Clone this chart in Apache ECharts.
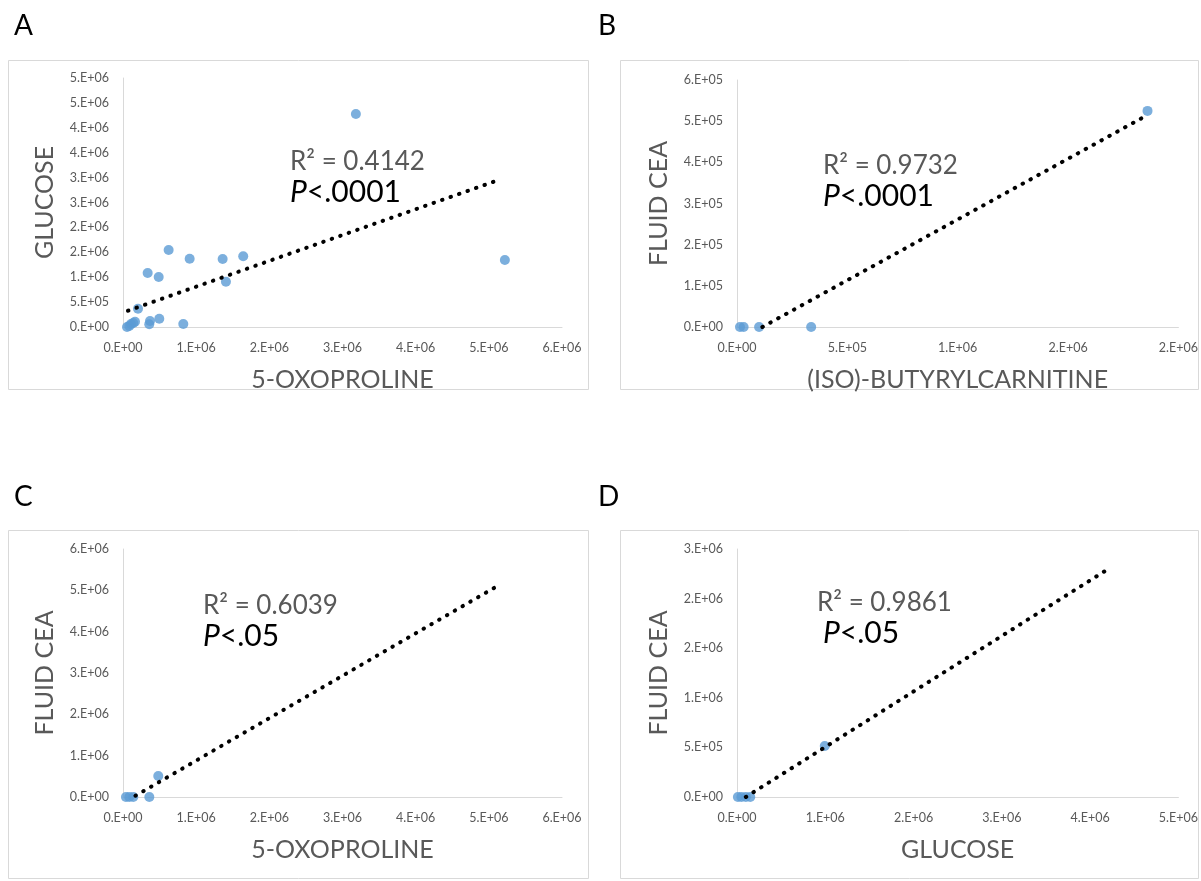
<!DOCTYPE html>
<html>
<head>
<meta charset="utf-8">
<script src="https://cdn.jsdelivr.net/npm/echarts@6/dist/echarts.min.js"></script>
<style>
  body { margin: 0; background: #fff; }
  #chart { width: 1201px; height: 881px; }
</style>
</head>
<body>
<div id="chart"></div>
<script>
// panel A: 5-oxoproline vs glucose
const oxoA = [0.055e6, 0.086e6, 0.11e6, 0.14e6, 0.164e6, 0.205e6, 0.337e6, 0.359e6, 0.369e6, 0.488e6, 0.496e6, 0.624e6, 0.824e6, 0.911e6, 1.362e6, 1.407e6, 1.643e6, 3.183e6, 5.219e6]
const glucoseA = [0, 0.02e6, 0.06e6, 0.08e6, 0.106e6, 0.367e6, 1.084e6, 0.054e6, 0.12e6, 1.004e6, 0.167e6, 1.546e6, 0.06e6, 1.371e6, 1.365e6, 0.91e6, 1.42e6, 4.277e6, 1.345e6]
const trendAx = [0.068e6, 5.13e6]
const trendAy = [0.327e6, 2.95e6]

// panel B: (iso)-butyrylcarnitine vs fluid CEA
const butyrylB = [0.0135e6, 0.03e6, 0.1e6, 0.336e6, 1.86e6]
const ceaB = [0, 0, 0, 0, 5.25e5]
const trendBx = [0.115e6, 1.86e6]
const trendBy = [0, 5.15e5]

// panel C: 5-oxoproline vs fluid CEA
const oxoC = [0.04e6, 0.086e6, 0.14e6, 0.36e6, 0.482e6]
const ceaC = [0, 0, 0, 0, 0.51e6]
const trendCx = [0.17e6, 5.16e6]
const trendCy = [0.03e6, 5.15e6]

// panel D: glucose vs fluid CEA
const glucoseD = [0.01e6, 0.05e6, 0.1e6, 0.15e6, 0.994e6]
const ceaD = [0, 0, 0, 0, 0.514e6]
const trendDx = [0.1e6, 4.19e6]
const trendDy = [0, 2.29e6]

// tick labels (Excel "0.E+00" format)
const ticksA_x = ['0.E+00', '1.E+06', '2.E+06', '3.E+06', '4.E+06', '5.E+06', '6.E+06']
const ticksA_y = ['0.E+00', '5.E+05', '1.E+06', '2.E+06', '2.E+06', '3.E+06', '3.E+06', '4.E+06', '4.E+06', '5.E+06', '5.E+06']
const ticksB_x = ['0.E+00', '5.E+05', '1.E+06', '2.E+06', '2.E+06']
const ticksB_y = ['0.E+00', '1.E+05', '2.E+05', '3.E+05', '4.E+05', '5.E+05', '6.E+05']
const ticksC_x = ['0.E+00', '1.E+06', '2.E+06', '3.E+06', '4.E+06', '5.E+06', '6.E+06']
const ticksC_y = ['0.E+00', '1.E+06', '2.E+06', '3.E+06', '4.E+06', '5.E+06', '6.E+06']
const ticksD_x = ['0.E+00', '1.E+06', '2.E+06', '3.E+06', '4.E+06', '5.E+06']
const ticksD_y = ['0.E+00', '5.E+05', '1.E+06', '2.E+06', '2.E+06', '3.E+06']

const FONT = 'Lato, "Open Sans", sans-serif'
const GREY = '#595959'
const BLUE = '#5b9bd5'

const zip = (a, b) => a.map((v, i) => [v, b[i]])

function axis(gridIndex, max, interval, labels, name, nameGap) {
    return {
        gridIndex, type: 'value', min: 0, max, interval, name,
        nameLocation: 'middle', nameGap,
        nameTextStyle: { color: GREY, fontSize: 25, fontFamily: FONT },
        axisLine: { show: true, onZero: false, lineStyle: { color: '#d9d9d9', width: 1 } },
        axisTick: { show: false },
        splitLine: { show: false },
        axisLabel: {
            color: GREY, fontSize: 12.5, fontFamily: FONT, margin: 14,
            formatter: v => labels[Math.round(v / interval)]
        }
    }
}

function scatter(i, xs, ys) {
    return {
        type: 'scatter', xAxisIndex: i, yAxisIndex: i, data: zip(xs, ys),
        symbolSize: 10, itemStyle: { color: BLUE }, z: 2, silent: true
    }
}

function trend(i, xs, ys) {
    return {
        type: 'line', xAxisIndex: i, yAxisIndex: i, data: zip(xs, ys),
        symbol: 'none', z: 3, silent: true,
        lineStyle: { color: '#000', width: 4, type: [0.5, 8.5], cap: 'round' }
    }
}

// panel frames, letters and the R² / P notes (ty = centre of the R² line)
const panels = [
    { x: 8, y: 60, w: 580, h: 329, letter: 'A', lx: 14, ly: 26, r2: 'R² = 0.4142', p: '.0001', tx: 290, ty: 162 },
    { x: 620, y: 60, w: 578, h: 329, letter: 'B', lx: 598, ly: 26, r2: 'R² = 0.9732', p: '.0001', tx: 823, ty: 166 },
    { x: 8, y: 530, w: 580, h: 348, letter: 'C', lx: 14, ly: 497, r2: 'R² = 0.6039', p: '.05', tx: 203, ty: 606 },
    { x: 620, y: 530, w: 578, h: 348, letter: 'D', lx: 598, ly: 497, r2: 'R² = 0.9861', p: '.05', tx: 817, ty: 603, px: 6 }
]
const graphic = []
panels.forEach(p => {
    graphic.push({ type: 'rect', shape: { x: p.x + 0.5, y: p.y + 0.5, width: p.w, height: p.h }, style: { fill: 'none', stroke: '#d9d9d9', lineWidth: 1 }, z: -1 })
    graphic.push({ type: 'text', x: p.lx, y: p.ly, style: { text: p.letter, fill: '#000', font: '28px ' + FONT, verticalAlign: 'middle' } })
    graphic.push({ type: 'text', x: p.tx, y: p.ty, style: { text: p.r2, fill: GREY, font: '26px ' + FONT, verticalAlign: 'middle' } })
    graphic.push({
        type: 'text', x: p.tx + (p.px || 0), y: p.ty + 30,
        style: {
            text: '{i|P}<' + p.p, fill: '#000', font: '30px ' + FONT, verticalAlign: 'middle',
            rich: { i: { fontStyle: 'italic', fontSize: 30, fontFamily: FONT, fill: '#000' } }
        }
    })
})

const chart = echarts.init(document.getElementById('chart'))
chart.setOption({
    backgroundColor: '#fff',
    animation: false,
    graphic,
    grid: [
        { left: 123, top: 78, width: 439, height: 249 },
        { left: 737, top: 80, width: 444, height: 247 },
        { left: 123, top: 549, width: 439, height: 248 },
        { left: 737, top: 549, width: 444, height: 248 }
    ],
    xAxis: [
        axis(0, 6e6, 1e6, ticksA_x, '5-OXOPROLINE', 40),
        axis(1, 2e6, 5e5, ticksB_x, '(ISO)-BUTYRYLCARNITINE', 40),
        axis(2, 6e6, 1e6, ticksC_x, '5-OXOPROLINE', 40),
        axis(3, 5e6, 1e6, ticksD_x, 'GLUCOSE', 40)
    ],
    yAxis: [
        axis(0, 5e6, 5e5, ticksA_y, 'GLUCOSE', 66),
        axis(1, 6e5, 1e5, ticksB_y, 'FLUID CEA', 66),
        axis(2, 6e6, 1e6, ticksC_y, 'FLUID CEA', 66),
        axis(3, 2.5e6, 5e5, ticksD_y, 'FLUID CEA', 66)
    ],
    series: [
        scatter(0, oxoA, glucoseA), trend(0, trendAx, trendAy),
        scatter(1, butyrylB, ceaB), trend(1, trendBx, trendBy),
        scatter(2, oxoC, ceaC), trend(2, trendCx, trendCy),
        scatter(3, glucoseD, ceaD), trend(3, trendDx, trendDy)
    ]
})
</script>
</body>
</html>
